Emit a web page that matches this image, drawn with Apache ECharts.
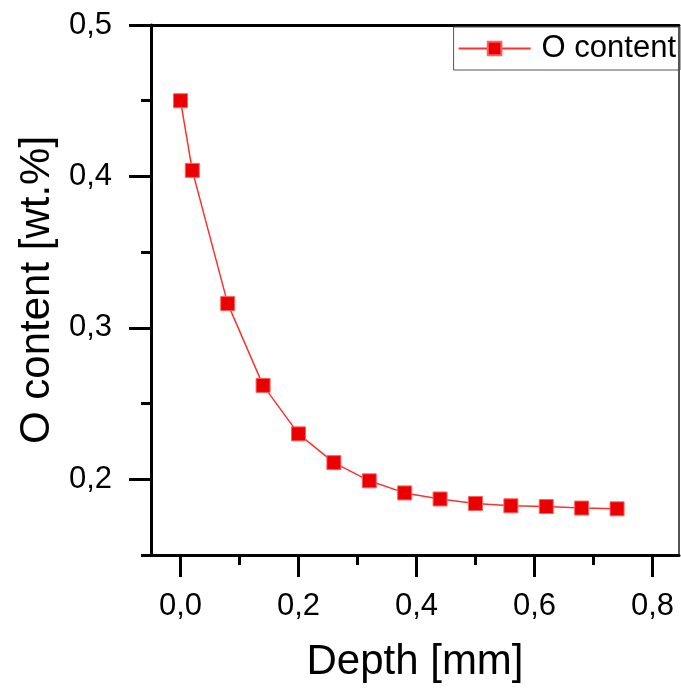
<!DOCTYPE html>
<html>
<head>
<meta charset="utf-8">
<title>O content vs depth</title>
<script src="https://cdn.jsdelivr.net/npm/echarts@6/dist/echarts.min.js"></script>
<style>
  html, body { margin: 0; padding: 0; background: #fff; }
  #chart { width: 681px; height: 693px; }
</style>
</head>
<body>
<div id="chart"></div>
<script>
// Oxygen content measured along the depth profile
const depthMm = [0, 0.02, 0.08, 0.14, 0.20, 0.26, 0.32, 0.38, 0.44, 0.50, 0.56, 0.62, 0.68, 0.74];
const oContent = [0.450, 0.404, 0.316, 0.262, 0.230, 0.211, 0.199, 0.191, 0.187, 0.184, 0.1825, 0.182, 0.181, 0.1805];

// Tick positions
const xMajorTicks = [0, 0.2, 0.4, 0.6, 0.8];
const xMinorTicks = [0.1, 0.3, 0.5, 0.7];
const yMajorTicks = [0.2, 0.3, 0.4, 0.5];
const yMinorTicks = [0.15, 0.25, 0.35, 0.45];

const FONT = "'Liberation Sans', Arial, sans-serif";
const fmt = v => v.toFixed(1).replace('.', ',');

const chart = echarts.init(document.getElementById('chart'));

const xRange = { min: -0.05, max: 0.845 };
const yRange = { min: 0.15, max: 0.5 };
const frameLine = { show: true, onZero: false, lineStyle: { color: '#000', width: 3 } };

chart.setOption({
  animation: false,
  backgroundColor: '#fff',
  grid: { left: 151, right: 2, top: 25, bottom: 138, containLabel: false },
  legend: {
    right: 1, top: 27,
    borderColor: '#555', borderWidth: 1, borderRadius: 0,
    padding: [6, 4, 6, 4],
    itemWidth: 72, itemHeight: 17,
    textStyle: { fontFamily: FONT, fontSize: 31, color: '#000', padding: [0, 0, 0, 6] },
    data: ['O content']
  },
  xAxis: [
    {
      type: 'value', position: 'bottom', ...xRange,
      name: 'Depth [mm]', nameLocation: 'middle', nameGap: 86,
      nameTextStyle: { fontFamily: FONT, fontSize: 42, color: '#000' },
      axisLine: frameLine,
      axisTick: { show: true, inside: false, length: 22, customValues: xMajorTicks, lineStyle: { color: '#000', width: 3 } },
      axisLabel: { show: true, customValues: xMajorTicks, margin: 36, formatter: fmt,
                   fontFamily: FONT, fontSize: 31, color: '#000' },
      splitLine: { show: false }
    },
    {
      type: 'value', position: 'bottom', ...xRange,
      axisLine: { show: false, onZero: false },
      axisTick: { show: true, length: 10, customValues: xMinorTicks, lineStyle: { color: '#000', width: 3 } },
      axisLabel: { show: false },
      splitLine: { show: false }
    },
    {
      type: 'value', position: 'top', ...xRange,
      axisLine: frameLine,
      axisTick: { show: false }, axisLabel: { show: false }, splitLine: { show: false }
    }
  ],
  yAxis: [
    {
      type: 'value', position: 'left', ...yRange,
      name: 'O content [wt.%]', nameLocation: 'middle', nameGap: 92,
      nameTextStyle: { fontFamily: FONT, fontSize: 42, color: '#000' },
      axisLine: frameLine,
      axisTick: { show: true, length: 22, customValues: yMajorTicks, lineStyle: { color: '#000', width: 3 } },
      axisLabel: { show: true, customValues: yMajorTicks, margin: 39, formatter: fmt,
                   fontFamily: FONT, fontSize: 31, color: '#000' },
      splitLine: { show: false }
    },
    {
      type: 'value', position: 'left', ...yRange,
      axisLine: { show: false, onZero: false },
      axisTick: { show: true, length: 10, customValues: yMinorTicks, lineStyle: { color: '#000', width: 3 } },
      axisLabel: { show: false },
      splitLine: { show: false }
    },
    {
      type: 'value', position: 'right', ...yRange,
      axisLine: { show: true, onZero: false, lineStyle: { color: '#555', width: 2 } },
      axisTick: { show: false }, axisLabel: { show: false }, splitLine: { show: false }
    }
  ],
  series: [
    {
      name: 'O content',
      type: 'line',
      xAxisIndex: 0, yAxisIndex: 0,
      data: depthMm.map((d, i) => [d, oContent[i]]),
      symbol: 'rect', symbolSize: 14,
      itemStyle: { color: '#ea0000', borderColor: '#ff6060', borderWidth: 1 },
      lineStyle: { color: '#ff3030', width: 1.5 },
      z: 5
    }
  ]
});
</script>
</body>
</html>
